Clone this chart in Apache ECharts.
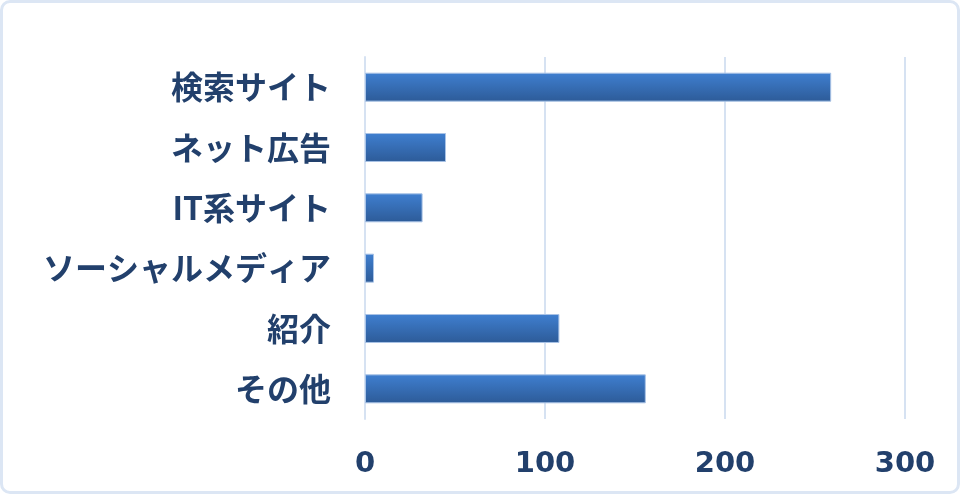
<!DOCTYPE html>
<html>
<head>
<meta charset="utf-8">
<script src="https://cdn.jsdelivr.net/npm/echarts@6/dist/echarts.min.js"></script>
<style>
  html, body { margin: 0; padding: 0; background: #fff; }
  #myChart {
    width: 960px;
    height: 494px;
    box-sizing: border-box;
    border: 3px solid #dce6f4;
    border-radius: 10px;
  }
</style>
</head>
<body>
<div id="myChart"></div>
<script>
// 流入経路
let categories = ['検索サイト', 'ネット広告', 'IT系サイト', 'ソーシャルメディア', '紹介', 'その他']
let values = [259, 45, 32, 5, 108, 156]
let xTicks = [0, 100, 200, 300]

let textColor = '#22406c'
let lineColor = '#d6e2f2'

let option = {
  animation: false,
  grid: {
    left: 362,
    right: 52,
    top: 54,
    bottom: 72
  },
  xAxis: {
    type: 'value',
    min: xTicks[0],
    max: xTicks[xTicks.length - 1],
    interval: 100,
    axisLine: { show: false },
    axisTick: { show: false },
    splitLine: {
      lineStyle: { color: lineColor, width: 2 }
    },
    axisLabel: {
      color: textColor,
      fontFamily: 'DejaVu Sans',
      fontWeight: 'bold',
      fontSize: 29,
      margin: 31
    }
  },
  yAxis: {
    type: 'category',
    inverse: true,
    data: categories,
    axisLine: {
      lineStyle: { color: lineColor, width: 2 }
    },
    axisTick: { show: false },
    axisLabel: {
      color: textColor,
      fontFamily: 'Noto Sans CJK JP',
      fontWeight: 'bold',
      fontSize: 32,
      margin: 34
    }
  },
  series: [
    {
      type: 'bar',
      data: values,
      barCategoryGap: '52%',
      itemStyle: {
        color: new echarts.graphic.LinearGradient(0, 0, 0, 1, [
          { offset: 0, color: '#3f7fd0' },
          { offset: 1, color: '#2d5b98' }
        ]),
        borderColor: '#a9c3e6',
        borderWidth: 1
      }
    }
  ]
}

let myChart = echarts.init(document.getElementById('myChart'))
myChart.setOption(option)
</script>
</body>
</html>
